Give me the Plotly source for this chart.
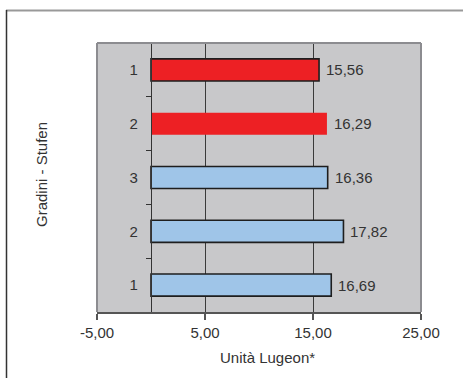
import plotly.graph_objects as go

# Steps (top to bottom) and their Lugeon values
step_labels = ["1", "2", "3", "2", "1"]
lugeon_values = [15.56, 16.29, 16.36, 17.82, 16.69]
bar_colors = ["#ED2024", "#ED2024", "#9FC5E8", "#9FC5E8", "#9FC5E8"]
outline_widths = [1.6, 0, 1.6, 1.6, 1.6]
x_ticks = [-5, 5, 15, 25]

positions = list(range(len(step_labels)))
fmt = lambda v: f"{v:.2f}".replace(".", ",")

W, H = 463, 378
L, R, T, B = 97, 42, 43, 66
pw, ph = W - L - R, H - T - B
FONT = "Liberation Sans, Arial, sans-serif"
TXT = "#333333"


def px_x(p):
    return (p - L) / pw


def px_y(p):
    return (H - B - p) / ph


fig = go.Figure()
fig.add_trace(go.Bar(
    x=lugeon_values,
    y=positions,
    orientation="h",
    width=0.41,
    marker=dict(color=bar_colors, line=dict(color="#1e1e1e", width=outline_widths)),
    hoverinfo="skip",
))

# value labels to the right of each bar
for v, p in zip(lugeon_values, positions):
    fig.add_annotation(
        x=v, y=p, text=fmt(v), showarrow=False,
        xanchor="left", yanchor="middle", xshift=5,
        font=dict(family=FONT, size=15, color=TXT),
    )

# axis titles
fig.add_annotation(
    xref="paper", yref="paper", x=px_x(41), y=px_y(175),
    text="Gradini - Stufen", textangle=-90, showarrow=False,
    xanchor="center", yanchor="middle",
    font=dict(family=FONT, size=15, color=TXT),
)
fig.add_annotation(
    xref="paper", yref="paper", x=px_x(267), y=px_y(358),
    text="Unità Lugeon*", showarrow=False,
    xanchor="center", yanchor="middle",
    font=dict(family=FONT, size=15, color=TXT),
)

shapes = []
# plot-area border (top, left, right)
border = dict(type="line", xref="paper", yref="paper", layer="above",
              line=dict(color="#8C8C90", width=2))
shapes.append(dict(border, x0=0, x1=1, y0=1, y1=1))
shapes.append(dict(border, x0=0, x1=0, y0=0, y1=1))
shapes.append(dict(border, x0=1, x1=1, y0=0, y1=1))
# outer chart frame
shapes.append(dict(type="line", xref="paper", yref="paper",
                   x0=px_x(6), x1=px_x(480), y0=px_y(10.5), y1=px_y(10.5),
                   line=dict(color="#999999", width=2)))
shapes.append(dict(type="line", xref="paper", yref="paper",
                   x0=px_x(6.5), x1=px_x(6.5), y0=px_y(10), y1=px_y(400),
                   line=dict(color="#333333", width=1.5)))

fig.update_layout(
    width=W, height=H,
    margin=dict(l=L, r=R, t=T, b=B, pad=0),
    paper_bgcolor="white",
    plot_bgcolor="#C8C8CA",
    showlegend=False,
    font=dict(family=FONT, size=15, color=TXT),
    shapes=shapes,
    xaxis=dict(
        range=[-5, 25],
        tickmode="array",
        tickvals=x_ticks,
        ticktext=[fmt(v) for v in x_ticks],
        showgrid=True, gridcolor="#3a3a3a", gridwidth=1,
        zeroline=False,
        showline=True, linecolor="#555555", linewidth=2,
        ticks="outside", ticklen=6, tickcolor="#555555", tickwidth=1.5,
        tickfont=dict(family=FONT, size=15, color=TXT),
        fixedrange=True,
    ),
    yaxis=dict(
        range=[len(step_labels) - 0.5, -0.5],
        anchor="free", position=5 / 30,
        tickmode="array",
        tickvals=positions,
        ticktext=step_labels,
        ticks="",
        ticklabelstandoff=10,
        showgrid=False, zeroline=False,
        showline=True, linecolor="#333333", linewidth=1.2,
        minor=dict(tickmode="array", tickvals=[p + 0.5 for p in positions[:-1]],
                   ticks="outside", ticklen=5, tickcolor="#333333", tickwidth=1,
                   showgrid=False),
        tickfont=dict(family=FONT, size=15, color=TXT),
        fixedrange=True,
    ),
)

fig.write_html("out.html")
